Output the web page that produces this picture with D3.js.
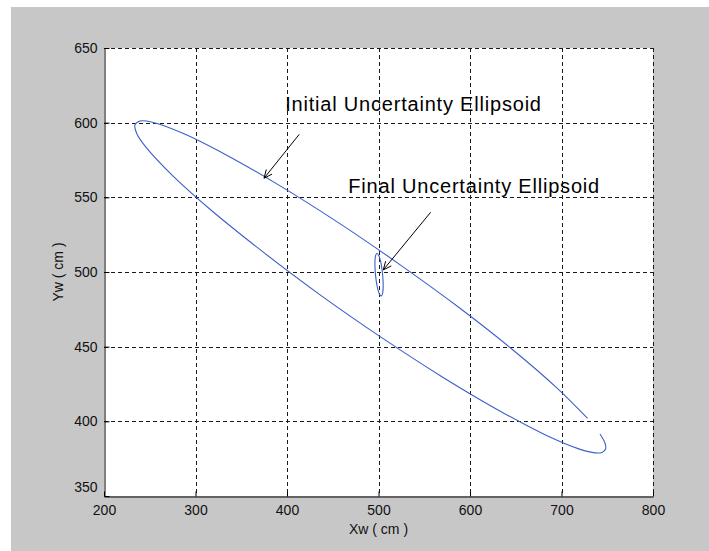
<!DOCTYPE html>
<html>
<head>
<meta charset="utf-8">
<script src="https://cdn.jsdelivr.net/npm/d3@7"></script>
<style>
  html, body { margin: 0; padding: 0; background: #ffffff; }
  svg { display: block; }
</style>
</head>
<body>
<svg id="chart" width="709" height="551"></svg>
<script>
// ---- data ----
const xTicks = [200, 300, 400, 500, 600, 700, 800];
const yTicks = [350, 400, 450, 500, 550, 600, 650];
const xLabel = "Xw ( cm )";
const yLabel = "Yw ( cm )";

// initial uncertainty ellipse outline (Xw, Yw), open near the right end
const initialX = [728.5, 694.6, 647.0, 588.7, 523.7, 456.5, 391.6, 333.6, 286.2, 252.8, 239.5, 233.8,
                  235.9, 245.8, 274.4, 317.8, 373.0, 436.2, 503.1, 569.3, 630.1, 681.4, 719.7, 736.7,
                  744.3, 748.2, 747.6, 742.1];
const initialY = [402.0, 422.6, 447.8, 475.9, 504.8, 532.9, 558.0, 578.4, 592.9, 600.3, 601.1, 598.5,
                  592.6, 583.6, 564.9, 541.0, 513.8, 484.7, 456.2, 429.9, 407.8, 391.2, 381.4, 378.9,
                  379.2, 381.5, 385.3, 391.5];

// final uncertainty ellipse outline (Xw, Yw), closed
const finalX = [503.0, 504.6, 505.1, 504.4, 502.7, 500.4, 498.2, 496.6, 496.1, 496.8, 498.5, 500.8];
const finalY = [483.9, 486.1, 491.6, 498.8, 505.9, 510.9, 512.6, 510.3, 504.8, 497.6, 490.5, 485.5];

// annotations: text anchor and arrow (tail -> head), in data units
const noteTexts = ["Initial Uncertainty Ellipsoid", "Final Uncertainty Ellipsoid"];
const noteTextX = [398, 467];
const noteTextY = [608, 553];
const arrowFromX = [413.4, 557.0];
const arrowFromY = [592.2, 540.0];
const arrowToX = [374.9, 505.2];
const arrowToY = [562.8, 501.4];

// ---- drawing ----
const svg = d3.select("#chart");
const W = 709, H = 551;
const L = 104, R = 653, T = 48, B = 496;

const x = d3.scaleLinear().domain([200, 800]).range([L, R]);
const y = d3.scaleLinear().domain([350, 650]).range([B, T]);

// figure background
svg.append("rect").attr("x", 0).attr("y", 0).attr("width", W).attr("height", H).attr("fill", "#ffffff");
svg.append("rect").attr("x", 11).attr("y", 7).attr("width", W - 11).attr("height", H - 7).attr("fill", "#c7c7c7");

// axes background
svg.append("rect").attr("x", L).attr("y", T).attr("width", R - L).attr("height", B - T).attr("fill", "#ffffff");

// grid
const grid = svg.append("g").attr("class", "grid");
grid.selectAll("line.vx").data(xTicks.filter(d => d !== 200)).join("line")
  .attr("x1", d => Math.round(x(d)) + 0.5).attr("x2", d => Math.round(x(d)) + 0.5)
  .attr("y1", T).attr("y2", B)
  .attr("stroke", "#1a1a1a").attr("stroke-width", 1).attr("stroke-dasharray", "4,3");
grid.selectAll("line.hy").data(yTicks.filter(d => d !== 350)).join("line")
  .attr("y1", d => Math.round(y(d)) + 0.5).attr("y2", d => Math.round(y(d)) + 0.5)
  .attr("x1", L).attr("x2", R)
  .attr("stroke", "#1a1a1a").attr("stroke-width", 1).attr("stroke-dasharray", "4,3");

// axes (left & bottom solid, ticks inward)
const font = "'Liberation Sans', Arial, sans-serif";
const xAxis = svg.append("g").attr("transform", `translate(0,${B + 0.5})`)
  .call(d3.axisBottom(x).tickValues(xTicks).tickSize(-5).tickPadding(8).tickSizeOuter(0));
const yAxis = svg.append("g").attr("transform", `translate(${L + 0.5},0)`)
  .call(d3.axisLeft(y).tickValues(yTicks).tickSize(-5).tickPadding(7).tickSizeOuter(0));
[xAxis, yAxis].forEach(g => {
  g.select(".domain").attr("stroke", "#000").attr("stroke-width", 1);
  g.selectAll(".tick line").attr("stroke", "#000");
  g.selectAll(".tick text").attr("fill", "#111").style("font-family", font).style("font-size", "14px");
});
xAxis.selectAll(".tick text").attr("dy", "0.75em");
yAxis.selectAll(".tick text").filter(d => d === 350).attr("dy", "-0.3em");

// axis labels
svg.append("text").attr("x", x(500)).attr("y", 534)
  .attr("text-anchor", "middle").attr("fill", "#111")
  .style("font-family", font).style("font-size", "14px").text(xLabel);
svg.append("text").attr("transform", `translate(63,${(T + B) / 2}) rotate(-90)`)
  .attr("text-anchor", "middle").attr("fill", "#111")
  .style("font-family", font).style("font-size", "14px").text(yLabel);

// ellipses
const line = d3.line().x(d => x(d[0])).y(d => y(d[1])).curve(d3.curveCatmullRom.alpha(0.5));
const lineClosed = d3.line().x(d => x(d[0])).y(d => y(d[1])).curve(d3.curveCatmullRomClosed.alpha(0.5));
svg.append("path").datum(initialX.map((v, i) => [v, initialY[i]]))
  .attr("d", line).attr("fill", "none").attr("stroke", "#3c5fc8").attr("stroke-width", 1.1);
svg.append("path").datum(finalX.map((v, i) => [v, finalY[i]]))
  .attr("d", lineClosed).attr("fill", "none").attr("stroke", "#3c5fc8").attr("stroke-width", 1.1);

// annotations
const notes = svg.append("g");
noteTexts.forEach((t, i) => {
  notes.append("text").attr("x", x(noteTextX[i])).attr("y", y(noteTextY[i]))
    .attr("fill", "#000").style("font-family", font).style("font-size", "20px")
    .style("letter-spacing", "0.8px").text(t);
  const x1 = x(arrowFromX[i]), y1 = y(arrowFromY[i]), x2 = x(arrowToX[i]), y2 = y(arrowToY[i]);
  notes.append("line").attr("x1", x1).attr("y1", y1).attr("x2", x2).attr("y2", y2)
    .attr("stroke", "#000").attr("stroke-width", 1);
  const ang = Math.atan2(y1 - y2, x1 - x2), len = 9, spread = 0.42;
  const p1 = [x2 + len * Math.cos(ang + spread), y2 + len * Math.sin(ang + spread)];
  const p2 = [x2 + len * Math.cos(ang - spread), y2 + len * Math.sin(ang - spread)];
  notes.append("path").attr("d", `M${p1[0]},${p1[1]}L${x2},${y2}L${p2[0]},${p2[1]}`)
    .attr("fill", "none").attr("stroke", "#000").attr("stroke-width", 1);
});
</script>
</body>
</html>
